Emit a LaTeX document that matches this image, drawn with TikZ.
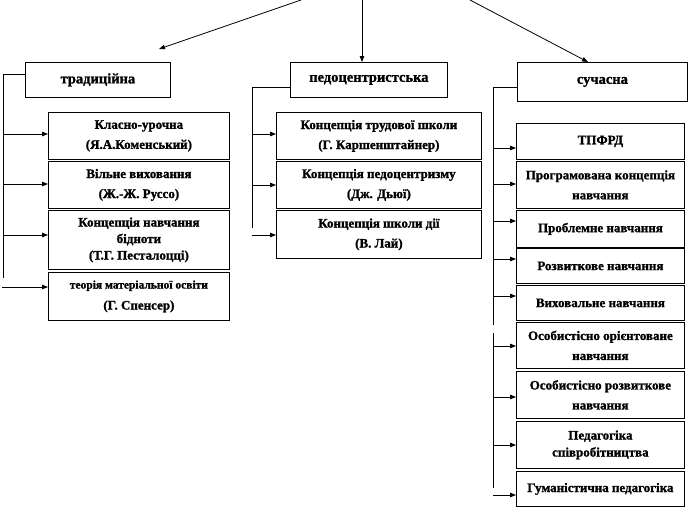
\documentclass[tikz,border=0pt]{standalone}
\usepackage{fontspec}
\setmainfont{Liberation Serif}[BoldFeatures={FakeBold=1.2}]
\usetikzlibrary{arrows.meta}
\begin{document}
\begin{tikzpicture}[x=1pt,y=-1pt,
  box/.style={draw,line width=0.8pt,anchor=north west,inner sep=0pt,align=center,
    font=\bfseries\fontsize{13}{20}\selectfont},
  head/.style={box,font=\bfseries\fontsize{14.5}{18}\selectfont},
  ln/.style={line width=0.8pt},
  arr/.style={line width=0.8pt,-{Triangle[length=6pt,width=4.5pt]}}]
\useasboundingbox (0,0) rectangle (700,509);
% header boxes
\node[head,minimum width=145,minimum height=35] (trad) at (25,62) {традиційна};
\node[head,minimum width=157,minimum height=35] (pedo) at (290,62) {педоцентристська};
\node[head,minimum width=170,minimum height=39] (such) at (517,62) {сучасна};
% top arrows
\coordinate (t1) at (301,0); \coordinate (e1) at (159,49);
\coordinate (t2) at (362,0);
\coordinate (t3) at (470,0); \coordinate (e3) at (588,62);
\draw[arr] (t1) -- (e1);
\draw[arr] (t2) -- (t2 |- pedo.north);
\draw[arr] (t3) -- (e3);
% traditional column
\node[box,minimum width=181,minimum height=47] (k1) at (48,112) {Класно-урочна\\(Я.А.Коменський)};
\node[box,minimum width=181,minimum height=47] (k2) at (48,161) {Вільне виховання\\(Ж.-Ж. Руссо)};
\node[box,minimum width=181,minimum height=59,font=\bfseries\fontsize{13}{16.5}\selectfont] (k3) at (48,210) {Концепція навчання\\бідноти\\(Т.Г. Песталоцці)};
\node[box,minimum width=181,minimum height=48,font=\bfseries\fontsize{11.5}{21}\selectfont] (k4) at (48,272) {теорія матеріальної освіти\\{\fontsize{13}{14}\selectfont (Г. Спенсер)}};
\coordinate (ta) at (3,74); \coordinate (tb) at (3,278);
\draw[ln] (trad.west |- ta) -- (ta) -- (tb);
\coordinate (a1) at (3,134); \coordinate (a2) at (3,184); \coordinate (a3) at (3,235); \coordinate (a4) at (2,287);
\draw[arr] (a1) -- (a1 -| k1.west);
\draw[arr] (a2) -- (a2 -| k2.west);
\draw[arr] (a3) -- (a3 -| k3.west);
\draw[arr] (a4) -- (a4 -| k4.west);
% pedocentric column
\node[box,minimum width=205,minimum height=47] (p1) at (276,112) {Концепція трудової школи\\(Г. Каршенштайнер)};
\node[box,minimum width=205,minimum height=47] (p2) at (276,161) {Концепція педоцентризму\\(Дж. Дьюї)};
\node[box,minimum width=205,minimum height=48] (p3) at (276,210) {Концепція школи дії\\(В. Лай)};
\coordinate (pa) at (252,87); \coordinate (pb) at (252,228);
\draw[ln] (pedo.west |- pa) -- (pa) -- (pb);
\coordinate (b1) at (252,134); \coordinate (b2) at (252,185); \coordinate (b3) at (252,235);
\draw[arr] (b1) -- (b1 -| p1.west);
\draw[arr] (b2) -- (b2 -| p2.west);
\draw[arr] (b3) -- (b3 -| p3.west);
% modern column
\node[box,minimum width=168,minimum height=36] (s1) at (516,123) {ТПФРД};
\node[box,minimum width=168,minimum height=47] (s2) at (516,161) {Програмована концепція\\навчання};
\node[box,minimum width=168,minimum height=37] (s3) at (516,210) {Проблемне навчання};
\node[box,minimum width=168,minimum height=35] (s4) at (516,248) {Розвиткове навчання};
\node[box,minimum width=168,minimum height=35] (s5) at (516,285) {Виховальне навчання};
\node[box,minimum width=168,minimum height=46] (s6) at (516,322) {Особистісно орієнтоване\\навчання};
\node[box,minimum width=168,minimum height=47] (s7) at (516,371) {Особистісно розвиткове\\навчання};
\node[box,minimum width=168,minimum height=47,font=\bfseries\fontsize{13}{17}\selectfont] (s8) at (516,421) {Педагогіка\\співробітництва};
\node[box,minimum width=168,minimum height=35] (s9) at (516,471) {Гуманістична педагогіка};
\coordinate (sa) at (493,87); \coordinate (sb) at (493,325);
\coordinate (sc) at (493,333); \coordinate (sd) at (493,488);
\draw[ln] (such.west |- sa) -- (sa) -- (sb);
\draw[ln] (sc) -- (sd);
\coordinate (c1) at (493,148); \coordinate (c2) at (493,184); \coordinate (c3) at (493,221);
\coordinate (c4) at (493,259); \coordinate (c5) at (493,296); \coordinate (c6) at (493,346);
\coordinate (c7) at (493,397); \coordinate (c8) at (493,445); \coordinate (c9) at (493,495);
\draw[arr] (c1) -- (c1 -| s1.west);
\draw[arr] (c2) -- (c2 -| s2.west);
\draw[arr] (c3) -- (c3 -| s3.west);
\draw[arr] (c4) -- (c4 -| s4.west);
\draw[arr] (c5) -- (c5 -| s5.west);
\draw[arr] (c6) -- (c6 -| s6.west);
\draw[arr] (c7) -- (c7 -| s7.west);
\draw[arr] (c8) -- (c8 -| s8.west);
\draw[arr] (c9) -- (c9 -| s9.west);
\end{tikzpicture}
\end{document}
